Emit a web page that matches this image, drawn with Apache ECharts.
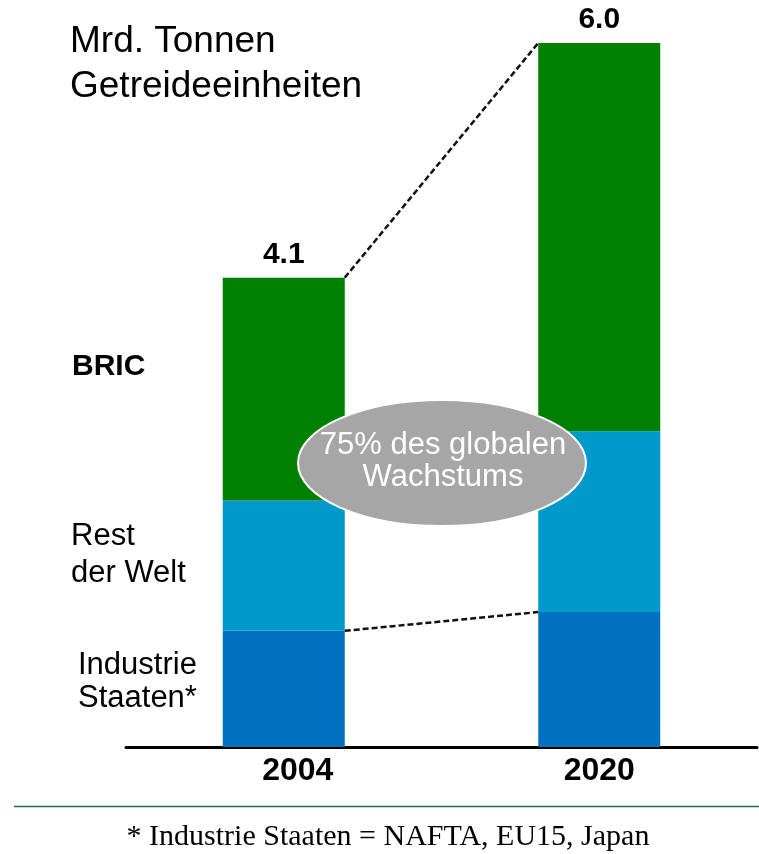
<!DOCTYPE html>
<html>
<head>
<meta charset="utf-8">
<title>Getreideeinheiten</title>
<script src="https://cdn.jsdelivr.net/npm/echarts@6/dist/echarts.min.js"></script>
<style>
  html, body { margin: 0; padding: 0; background: #fff; }
  #chart { width: 759px; height: 854px; }
</style>
</head>
<body>
<div id="chart"></div>
<script>
// Mrd. Tonnen Getreideeinheiten
const years = ['2004', '2020']
const industrie = [0.99, 1.15]
const restWelt = [1.11, 1.54]
const bric = [1.9, 3.31]
const totalLabels = ['4.1', '6.0']
const yMax = 6.0

const sans = "'Liberation Sans', Arial, sans-serif"
const serif = "'Liberation Serif', 'Times New Roman', serif"
const barWidth = 122

const chart = echarts.init(document.getElementById('chart'))

chart.setOption({
  animation: false,
  grid: { left: 126, right: 2, top: 43, bottom: 107 },
  xAxis: {
    type: 'category',
    offset: 2,
    data: [{ value: years[0], textStyle: { padding: [0, 0, 0, 28] } }, years[1]],
    axisLine: { lineStyle: { color: '#000', width: 3 } },
    axisTick: { show: false },
    axisLabel: {
      margin: 6,
      color: '#000',
      fontFamily: sans,
      fontSize: 32,
      fontWeight: 'bold',
      lineHeight: 32
    }
  },
  yAxis: {
    type: 'value',
    min: 0,
    max: yMax,
    show: false,
    splitLine: { show: false }
  },
  series: [{
    name: 'Industrie Staaten',
    type: 'bar',
    stack: 'total',
    barWidth: barWidth,
    data: industrie,
    itemStyle: { color: '#0070c0' }
  }, {
    name: 'Rest der Welt',
    type: 'bar',
    stack: 'total',
    barWidth: barWidth,
    data: restWelt,
    itemStyle: { color: '#0099cc' }
  }, {
    name: 'BRIC',
    type: 'bar',
    stack: 'total',
    barWidth: barWidth,
    data: bric,
    itemStyle: { color: '#008000' },
    label: {
      show: true,
      position: 'top',
      distance: 8,
      formatter: p => totalLabels[p.dataIndex],
      color: '#000',
      fontFamily: sans,
      fontSize: 30,
      fontWeight: 'bold'
    }
  }]
})

// dashed connectors between the bars
const total = i => industrie[i] + restWelt[i] + bric[i]
const topA = chart.convertToPixel({ gridIndex: 0 }, [0, total(0)])
const topB = chart.convertToPixel({ gridIndex: 0 }, [1, total(1)])
const indA = chart.convertToPixel({ gridIndex: 0 }, [0, industrie[0]])
const indB = chart.convertToPixel({ gridIndex: 0 }, [1, industrie[1]])
const half = barWidth / 2
const dash = { stroke: '#111', lineWidth: 2.5, lineDash: [6, 3] }

function txt(x, y, text, font, extra) {
  return {
    type: 'text',
    x: x,
    y: y,
    z: 110,
    style: Object.assign({
      text: text,
      font: font,
      fill: '#000',
      textAlign: 'left',
      align: 'left',
      textVerticalAlign: 'top',
      verticalAlign: 'top'
    }, extra || {})
  }
}

chart.setOption({
  graphic: [
    {
      type: 'line',
      z: 50,
      shape: { x1: topA[0] + half, y1: topA[1], x2: topB[0] - half, y2: topB[1] },
      style: dash
    },
    {
      type: 'line',
      z: 50,
      shape: { x1: indA[0] + half, y1: indA[1], x2: indB[0] - half, y2: indB[1] },
      style: dash
    },
    {
      type: 'ellipse',
      z: 100,
      shape: { cx: 442, cy: 463, rx: 144, ry: 63 },
      style: { fill: '#a6a6a6', stroke: '#fff', lineWidth: 2 }
    },
    txt(443, 461, '75% des globalen\nWachstums', '31px ' + sans, {
      fill: '#fff',
      textAlign: 'center',
      align: 'center',
      textVerticalAlign: 'middle',
      verticalAlign: 'middle',
      lineHeight: 32
    }),
    txt(70, 19, 'Mrd. Tonnen\nGetreideeinheiten', '37px ' + sans, { lineHeight: 45 }),
    txt(72, 352, 'BRIC', 'bold 30px ' + sans, { lineHeight: 30 }),
    txt(71, 518, 'Rest\nder Welt', '31px ' + sans, { lineHeight: 37 }),
    txt(78, 649, 'Industrie\nStaaten*', '31px ' + sans, { lineHeight: 33 }),
    {
      type: 'line',
      shape: { x1: 14, y1: 806.5, x2: 759, y2: 806.5 },
      style: { stroke: '#1e6b4f', lineWidth: 1.5 }
    },
    txt(388, 837, '* Industrie Staaten = NAFTA, EU15, Japan', '30px ' + serif, {
      textAlign: 'center',
      align: 'center',
      textVerticalAlign: 'middle',
      verticalAlign: 'middle'
    })
  ]
})
</script>
</body>
</html>
